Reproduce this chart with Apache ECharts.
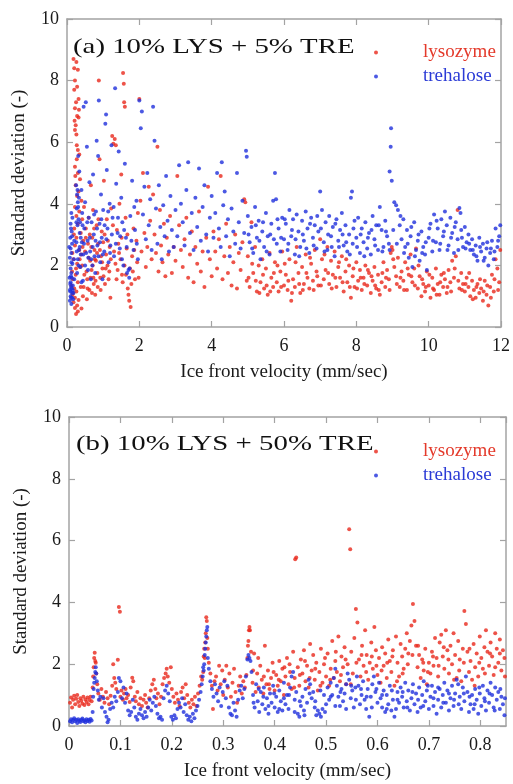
<!DOCTYPE html>
<html>
<head>
<meta charset="utf-8">
<title>Standard deviation vs ice front velocity</title>
<script src="https://cdn.jsdelivr.net/npm/echarts/dist/echarts.min.js"></script>
<style>
  html, body { margin: 0; padding: 0; background: #fff; }
  #chart { width: 513px; height: 784px; }
</style>
</head>
<body>
<div id="chart"></div>
<script>
// panel (a): 10% LYS + 5% TRE, [velocity mm/sec, std dev]
const aLysozyme = [
  [0.18,8.7],[0.26,8.6],[0.2,8.4],[0.3,8.35],[0.22,8.0],[0.28,7.8],[0.2,7.7],[0.32,7.4],[0.25,7.3],[0.22,7.1],
  [0.28,6.85],[0.32,6.8],[0.24,6.55],[0.22,6.4],[0.26,6.25],[0.3,5.75],[0.34,5.6],[0.27,5.45],[0.22,5.2],[0.3,5.0],
  [0.36,4.8],[0.24,4.6],[0.32,4.4],[0.28,4.25],[0.4,4.1],[0.22,3.9],[0.34,3.75],[0.26,3.6],[0.42,3.5],[0.3,3.35],
  [0.2,3.2],[0.38,3.05],[0.26,2.9],[0.45,2.8],[0.22,2.65],[0.34,2.5],[0.4,2.35],[0.18,2.2],[0.28,2.05],[0.36,1.95],
  [0.14,1.8],[0.24,1.7],[0.16,1.55],[0.3,1.45],[0.12,1.35],[0.2,1.25],[0.26,1.15],[0.15,1.05],[0.22,0.95],[0.32,0.88],
  [0.18,0.8],[0.28,0.7],[0.22,0.62],[0.3,0.5],[0.25,0.42],[0.4,0.6],[0.44,1.0],[0.46,1.3],[0.48,1.7],[0.42,2.0],
  [0.15,2.4],[0.19,3.0],[0.23,4.9],[0.27,5.9],[0.21,6.7],[0.33,7.05],[0.17,1.1],[0.25,1.9],[0.35,2.2],[0.38,1.3],
  [0.43,2.6],[0.47,3.9],
  [0.5,2.45],[0.52,3.2],[0.55,0.9],[0.56,1.55],[0.58,2.7],[0.6,3.55],[0.62,1.2],[0.64,2.15],[0.66,4.6],[0.68,1.85],
  [0.7,2.9],[0.72,3.8],[0.74,1.4],[0.76,2.5],[0.78,1.05],[0.8,2.15],[0.82,3.3],[0.84,1.75],[0.86,2.7],[0.88,8.0],
  [0.9,5.45],[0.92,1.6],[0.94,2.3],[0.96,3.1],[0.98,1.9],[1.0,2.75],[1.02,4.75],[1.05,1.4],[1.08,2.35],[1.1,3.5],
  [1.12,2.0],[1.15,1.55],[1.18,2.6],[1.2,0.95],[1.22,3.85],[1.25,6.2],[1.28,5.95],[1.3,2.45],[1.32,6.1],[1.35,5.9],
  [1.38,3.15],[1.4,1.85],[1.42,2.7],[1.45,4.0],[1.48,2.2],[1.5,4.95],[1.52,1.7],[1.55,8.25],[1.57,7.9],[1.58,7.3],
  [1.6,7.15],[1.62,3.55],[1.65,2.55],[1.68,1.25],[1.7,1.05],[1.72,0.85],[1.74,1.9],[1.76,0.65],[1.8,2.3],[1.84,3.2],
  [1.88,1.55],[1.92,2.8],[1.96,3.7],
  [0.52,2.9],[0.54,1.8],[0.57,1.25],[0.6,2.25],[0.63,3.0],[0.65,1.6],[0.67,2.6],[0.69,1.1],[0.71,2.0],[0.73,1.6],
  [0.75,3.2],[0.77,2.2],[0.79,1.5],[0.83,2.4],[0.85,1.3],[0.87,3.5],[0.91,2.5],[0.93,1.2],[0.97,2.1],[1.01,1.65],
  [1.04,3.0],[1.07,1.9],[1.13,2.8],[1.17,1.8],[1.21,2.2],[1.27,3.3],[1.34,2.05],[1.37,1.55],[1.44,2.4],[1.51,2.9],
  [1.54,1.45],[1.59,2.0],[1.63,1.7],[1.67,3.0],[1.78,1.4],[1.82,1.8],[1.86,2.5],[1.94,2.1],[1.98,1.6],
  [2.0,7.4],[2.03,4.1],[2.06,2.45],[2.1,5.0],[2.14,3.05],[2.18,1.95],[2.22,2.6],[2.26,4.55],[2.3,3.45],[2.34,2.2],
  [2.38,4.3],[2.42,3.0],[2.46,2.4],[2.5,5.85],[2.53,1.8],[2.57,3.8],[2.6,2.65],[2.64,2.1],[2.68,3.35],[2.72,1.65],
  [2.76,2.9],[2.8,2.35],[2.85,3.6],[2.9,1.75],[2.95,2.6],[3.0,2.15],[3.05,4.9],[3.1,3.3],[3.15,2.5],[3.2,1.95],
  [3.25,2.85],[3.3,3.55],[3.35,1.6],[3.4,2.35],[3.45,3.1],[3.5,1.45],[3.55,2.6],[3.6,2.05],[3.65,3.75],[3.7,1.8],
  [3.75,2.45],[3.8,1.3],[3.85,2.9],[3.9,4.55],[3.95,2.2],[4.0,1.65],[4.05,3.1],[4.1,2.45],[4.15,1.9],[4.2,2.85],
  [4.25,4.9],[4.3,1.55],[4.35,2.3],[4.4,3.35],[4.45,1.75],[4.5,2.6],[4.55,1.35],[4.6,2.1],[4.65,3.0],[4.7,1.25],
  [4.75,2.4],[4.8,1.85],[4.85,2.75],[4.9,4.15],[4.93,4.05],[4.97,1.5],
  [5.0,2.3],[5.05,1.3],[5.1,3.4],[5.15,1.75],[5.2,2.6],[5.25,1.15],[5.3,2.0],[5.35,1.45],[5.4,2.2],[5.45,1.25],
  [5.5,1.9],[5.55,1.05],[5.6,2.4],[5.65,1.6],[5.7,1.3],[5.75,2.1],[5.8,1.45],[5.85,1.15],[5.9,1.8],[5.95,2.45],
  [6.0,1.35],[6.05,1.7],[6.1,1.2],[6.15,2.2],[6.2,0.85],[6.25,1.55],[6.3,1.3],[6.35,2.6],[6.4,1.75],[6.45,1.1],
  [6.5,1.95],[6.55,1.4],[6.6,2.35],[6.65,1.6],[6.7,1.25],[6.75,2.05],[6.8,1.5],[6.85,2.5],[6.9,1.8],[6.95,1.35],
  [7.0,2.85],[7.05,2.2],[7.1,1.55],[7.15,1.85],[7.2,2.6],[7.25,1.4],[7.3,2.15],[7.35,1.7],[7.4,2.45],[7.45,1.3],
  [7.5,1.95],[7.55,1.6],[7.6,2.3],[7.65,1.15],[7.7,1.8],[7.75,1.45],[7.8,2.0],[7.85,0.95],[7.9,1.65],[7.95,1.3],
  [8.0,2.1],[8.05,1.5],[8.1,1.85],[8.15,1.2],[8.2,1.6],[8.25,2.0],[8.3,1.35],[8.35,1.75],[8.4,1.1],[8.45,1.5],
  [8.5,1.95],[8.55,1.25],[8.6,1.7],[8.65,1.05],[8.7,1.45],[8.75,2.1],[8.8,1.3],[8.85,1.85],[8.9,1.55],[8.95,2.4],
  [8.98,2.6],[9.0,2.5],[9.05,1.95],[9.1,1.65],[9.15,2.25],[9.2,1.3],[9.25,1.8],[9.3,1.5],[9.35,2.1],[9.4,1.2],
  [9.45,1.7],[9.5,2.35],[9.55,1.45],[9.6,1.9],[9.65,2.55],[9.7,1.25],[9.75,1.65],[9.8,1.0],[9.85,1.4],[9.9,1.15],
  [9.95,1.8],[10.0,1.35],[10.05,0.95],[10.1,1.6],[10.15,1.2],[10.2,1.9],[10.25,1.4],[10.3,1.05],[10.35,1.7],[10.4,1.3],
  [10.45,1.55],[10.5,1.1],[10.55,1.85],[10.6,1.45],[10.65,2.15],[10.7,1.6],[10.75,2.3],[10.8,3.8],[10.85,1.25],[10.9,1.75],
  [10.95,1.4],[11.0,1.15],[11.05,1.6],[11.1,1.3],[11.15,1.0],[11.2,1.5],[11.25,1.2],[11.3,0.95],[11.35,1.4],[11.4,1.1],
  [11.45,1.25],[11.5,0.85],[11.55,1.5],[11.6,1.05],[11.65,0.7],[11.7,1.3],[11.75,1.7],[11.8,1.15],[11.85,2.2],[11.9,1.9],
  [11.95,1.45],[11.98,2.5],
  [5.02,1.6],[5.12,2.05],[5.22,1.5],[5.32,1.1],[5.42,1.7],[5.52,1.35],[5.62,1.15],[5.72,1.75],[5.82,2.0],[5.92,1.3],
  [6.02,2.05],[6.12,1.5],[6.22,1.1],[6.32,2.1],[6.42,1.4],[6.52,1.2],[6.62,1.75],[6.72,2.25],[6.82,1.2],[6.92,1.65],
  [7.02,1.35],[7.12,2.35],[7.22,1.75],[7.32,1.25],[7.42,1.6],[7.52,2.1],[7.62,1.45],[7.72,2.2],[7.82,1.3],[7.92,1.9],
  [8.02,1.25],[8.12,1.6],[8.22,1.4],[8.32,1.85],[8.42,1.65],[8.52,1.35],[8.62,1.2],[8.72,1.75],[8.82,1.6],[8.92,1.2],
  [9.02,2.2],[9.12,1.4],[9.22,1.6],[9.32,1.2],[9.42,1.9],[9.52,1.65],[9.62,1.35],[9.72,2.0],[9.82,1.55],[9.92,1.3],
  [10.02,1.7],[10.12,1.25],[10.22,1.05],[10.32,1.45],[10.42,1.75],[10.52,1.3],[10.62,1.15],[10.72,1.9],[10.82,1.5],[10.92,1.2],
  [11.02,1.4],[11.12,1.75],[11.22,0.9],[11.32,1.3],[11.42,1.55],[11.52,1.15],[11.62,1.35],[11.72,0.95],[11.82,1.55],[11.92,1.2]
];
const aTrehalose = [
  [0.08,0.85],[0.1,1.0],[0.12,0.75],[0.09,1.15],[0.11,1.3],[0.14,0.95],[0.1,1.45],[0.13,1.6],[0.08,1.2],[0.12,1.75],
  [0.16,1.35],[0.1,1.9],[0.15,2.05],[0.08,2.25],[0.12,2.4],[0.1,2.55],[0.14,2.7],[0.09,2.9],[0.13,3.1],[0.1,3.35],
  [0.15,3.55],[0.12,3.7],[0.18,1.1],[0.2,1.55],[0.17,0.9],[0.19,2.2],[0.2,2.8],[0.16,1.2],[0.06,2.6],[0.07,1.6],
  [0.11,0.95],[0.13,1.25],[0.09,1.4],[0.14,1.1],[0.11,1.65],[0.12,2.1],[0.14,2.95],[0.11,3.2],
  [0.25,4.6],[0.28,4.3],[0.3,4.05],[0.27,3.85],[0.32,3.5],[0.29,3.3],[0.35,3.05],[0.26,2.75],[0.33,2.5],[0.3,2.2],
  [0.37,1.95],[0.28,1.75],[0.34,5.05],[0.31,5.55],[0.4,4.45],[0.42,3.7],[0.38,2.9],[0.45,2.35],[0.44,1.5],[0.48,3.2],
  [0.5,4.05],[0.52,7.3],[0.46,7.15],[0.55,5.85],[0.57,2.8],[0.58,1.85],[0.6,3.55],[0.35,2.6],[0.4,1.45],[0.5,2.0],
  [0.26,3.4],[0.29,4.45],[0.31,3.9],[0.33,4.2],[0.36,3.4],[0.27,2.45],[0.32,2.0],[0.38,2.35],[0.41,2.75],[0.43,3.3],
  [0.47,2.7],[0.53,2.4],[0.56,3.4],[0.59,2.25],
  [0.62,4.7],[0.64,2.45],[0.66,1.55],[0.68,3.4],[0.7,2.0],[0.72,4.95],[0.74,3.0],[0.76,2.3],[0.78,1.75],[0.8,3.75],
  [0.82,6.05],[0.84,2.65],[0.86,5.55],[0.88,7.35],[0.9,3.35],[0.92,2.1],[0.94,4.3],[0.96,2.9],[0.98,1.55],[1.0,3.8],
  [1.03,2.45],[1.06,6.6],[1.08,6.9],[1.1,5.1],[1.12,3.2],[1.15,2.1],[1.18,4.0],[1.2,2.65],[1.23,5.9],[1.26,3.55],
  [1.3,2.3],[1.33,7.75],[1.36,4.65],[1.4,3.05],[1.43,5.7],[1.46,2.55],[1.5,4.2],[1.53,3.4],[1.56,2.0],[1.6,5.3],
  [1.63,2.9],[1.66,1.75],[1.7,1.85],[1.72,1.6],[1.75,3.6],[1.8,4.75],[1.84,2.5],[1.88,3.15],[1.92,4.1],[1.96,2.2],
  [0.63,2.9],[0.67,2.2],[0.71,2.6],[0.75,3.65],[0.79,2.8],[0.83,3.2],[0.87,2.3],[0.91,2.75],[0.95,3.5],[0.99,2.35],
  [1.04,3.3],[1.09,2.85],[1.14,3.75],[1.19,2.4],[1.24,3.0],[1.29,3.9],[1.35,2.7],[1.41,3.55],[1.47,2.95],[1.52,2.2],
  [1.58,3.15],[1.65,2.6],[1.73,1.9],[1.78,2.8],[1.86,3.9],[1.93,2.7],
  [2.0,7.35],[2.04,6.45],[2.07,7.0],[2.1,3.65],[2.14,4.55],[2.18,2.85],[2.22,5.0],[2.26,3.3],[2.3,4.15],[2.34,2.5],
  [2.38,7.15],[2.42,6.05],[2.46,3.85],[2.5,2.7],[2.54,4.6],[2.58,3.25],[2.62,2.2],[2.66,3.95],[2.7,2.95],[2.74,4.9],
  [2.78,3.45],[2.82,2.45],[2.86,4.25],[2.9,3.15],[2.95,2.6],[3.0,3.8],[3.05,2.95],[3.1,5.25],[3.15,4.0],[3.2,3.4],
  [3.25,2.65],[3.3,4.45],[3.35,5.35],[3.4,3.05],[3.45,3.7],[3.5,2.5],[3.55,4.2],[3.6,3.25],[3.65,5.15],[3.7,2.8],
  [3.75,3.9],[3.8,4.6],[3.85,3.0],[3.9,2.45],[3.95,3.55],[4.0,4.25],[4.05,2.9],[4.1,3.7],[4.15,5.0],[4.2,3.2],
  [4.25,2.6],[4.28,5.35],[4.32,3.95],[4.36,4.4],[4.4,2.95],[4.45,3.5],[4.5,2.3],[4.55,3.85],[4.6,3.1],[4.65,2.7],
  [4.7,5.0],[4.75,3.4],[4.8,2.55],[4.85,4.1],[4.9,3.05],[4.95,5.72],[4.97,5.53],
  [5.0,3.6],[5.05,2.75],[5.1,3.25],[5.15,2.4],[5.2,3.9],[5.25,2.9],[5.3,3.45],[5.35,2.2],[5.4,3.1],[5.45,2.6],
  [5.5,3.7],[5.55,2.95],[5.6,2.35],[5.65,3.35],[5.7,4.1],[5.75,5.0],[5.78,4.15],[5.8,2.7],[5.85,3.2],[5.9,2.45],
  [5.95,3.55],[6.0,2.85],[6.05,3.35],[6.1,2.5],[6.15,3.8],[6.2,2.95],[6.25,3.5],[6.3,2.35],[6.35,3.65],[6.4,3.1],
  [6.45,2.6],[6.5,3.45],[6.55,2.8],[6.6,3.75],[6.65,3.2],[6.7,2.4],[6.75,3.55],[6.8,2.9],[6.85,3.3],[6.9,2.55],
  [6.95,3.1],[7.0,4.4],[7.05,3.8],[7.1,2.75],[7.15,3.4],[7.2,2.5],[7.25,3.6],[7.3,2.95],[7.35,3.25],[7.4,2.3],
  [7.45,3.5],[7.5,2.8],[7.55,3.15],[7.6,3.7],[7.65,2.65],[7.7,3.3],[7.75,2.45],[7.8,3.0],[7.85,4.2],[7.88,4.4],
  [7.9,2.7],[7.95,3.45],[8.0,2.9],[8.05,3.55],[8.1,2.4],[8.15,3.2],[8.2,2.75],[8.25,3.4],[8.3,2.55],[8.35,3.05],
  [8.4,2.35],[8.45,3.6],[8.5,2.85],[8.55,3.3],[8.6,2.5],[8.65,3.9],[8.7,3.15],[8.75,2.6],[8.8,3.45],[8.85,2.95],
  [8.9,2.7],[8.95,5.85],[8.96,6.45],[8.92,5.05],[8.98,4.75],[9.05,4.05],[9.1,3.95],[9.15,3.8],[9.2,3.3],[9.25,2.85],
  [9.3,3.5],[9.35,2.6],[9.4,3.15],[9.45,2.25],[9.5,2.95],[9.55,1.95],[9.6,3.4],[9.65,2.5],[9.7,2.8],[9.75,2.15],
  [9.8,3.1],[9.85,2.6],[9.9,2.35],[9.95,1.85],[10.0,2.9],[10.05,3.35],[10.1,2.45],[10.15,3.65],[10.2,2.75],[10.25,3.2],
  [10.3,2.5],[10.35,3.5],[10.4,2.95],[10.45,3.75],[10.5,3.3],[10.55,2.65],[10.6,3.55],[10.65,3.05],[10.7,2.4],[10.75,3.4],
  [10.8,2.85],[10.85,3.86],[10.88,3.7],[10.9,3.15],[10.95,2.6],[11.0,3.25],[11.05,2.75],[11.1,3.0],[11.15,2.5],[11.2,2.85],
  [11.25,2.35],[11.3,2.65],[11.35,2.15],[11.4,2.9],[11.45,2.45],[11.5,2.7],[11.55,2.25],[11.6,2.55],[11.65,2.0],[11.7,2.4],
  [11.75,2.8],[11.8,2.2],[11.85,3.2],[11.9,2.6],[11.95,2.95],[11.98,3.3],
  [5.02,3.0],[5.12,2.55],[5.22,3.3],[5.32,2.8],[5.42,3.4],[5.52,2.45],[5.62,3.0],[5.72,2.85],[5.82,3.5],[5.92,2.9],
  [6.02,3.5],[6.12,2.7],[6.22,3.15],[6.32,2.85],[6.42,2.3],[6.52,3.0],[6.62,2.55],[6.72,3.35],[6.82,2.65],[6.92,3.6],
  [7.02,3.2],[7.12,2.45],[7.22,3.0],[7.32,2.6],[7.42,3.35],[7.52,2.6],[7.62,3.0],[7.72,2.75],[7.82,2.35],[7.92,3.2],
  [8.02,2.6],[8.12,3.0],[8.22,2.3],[8.32,2.9],[8.42,3.15],[8.52,2.65],[8.62,3.3],[8.72,2.45],[8.82,3.1],[8.92,2.5],
  [9.02,3.15],[9.12,2.7],[9.22,3.6],[9.32,2.4],[9.42,2.7],[9.52,3.25],[9.62,2.3],[9.72,3.0],[9.82,2.4],[9.92,2.75],
  [10.02,3.2],[10.12,2.8],[10.22,3.45],[10.32,2.7],[10.42,3.1],[10.52,2.5],[10.62,2.9],[10.72,3.25],[10.82,2.5],[10.92,2.9],
  [11.02,2.55],[11.12,2.7],[11.22,2.5],[11.32,2.3],[11.42,2.6],[11.52,2.15],[11.62,2.75],[11.72,2.55],[11.82,2.45],[11.92,2.8]
];

// panel (b): 10% LYS + 50% TRE
const bLysozyme = [
  [0.002,0.75],[0.004,0.92],[0.006,0.6],[0.008,0.85],[0.01,0.98],[0.012,0.7],[0.014,0.88],[0.016,1.0],[0.018,0.78],[0.02,0.65],
  [0.022,0.9],[0.024,0.82],[0.026,0.72],[0.028,0.95],[0.03,0.68],[0.032,0.86],[0.034,0.78],[0.036,0.92],[0.038,0.7],[0.04,0.84],
  [0.042,0.95],[0.044,0.8],
  [0.046,1.25],[0.047,1.6],[0.048,1.9],[0.049,2.2],[0.05,2.37],[0.051,2.1],[0.052,2.05],[0.053,1.7],[0.055,1.35],
  [0.057,1.05],[0.06,0.85],[0.063,1.2],[0.066,0.95],[0.069,0.75],[0.072,1.1],[0.075,0.9],[0.078,0.7],[0.081,0.98],[0.084,1.3],
  [0.086,2.0],[0.088,1.55],[0.09,1.4],[0.092,1.2],[0.095,2.14],[0.097,3.85],[0.099,3.7],[0.1,0.95],[0.102,1.15],[0.105,0.85],
  [0.107,1.05],[0.11,1.2],[0.112,0.9],[0.115,1.0],[0.118,0.78],[0.12,1.25],[0.123,1.56],[0.125,1.45],[0.128,0.95],[0.13,0.8],
  [0.133,1.1],[0.136,0.7],[0.139,0.9],[0.142,0.65],[0.145,0.85],[0.148,1.0],[0.15,0.75],[0.153,0.6],[0.156,0.9],[0.159,1.15],
  [0.162,1.35],[0.165,1.5],[0.168,1.2],[0.17,0.9],[0.173,1.05],[0.176,0.7],[0.179,0.95],[0.182,1.35],[0.185,1.55],[0.188,1.7],
  [0.19,1.85],[0.192,1.6],[0.195,1.4],[0.198,1.9],[0.2,1.2],[0.203,0.95],[0.206,0.75],[0.209,1.05],[0.212,0.85],[0.215,0.65],
  [0.218,1.1],[0.221,1.25],[0.224,0.9],[0.227,1.35],[0.23,1.0],[0.233,0.75],[0.236,0.6],[0.239,0.85],[0.242,0.7],[0.245,0.95],
  [0.248,0.65],[0.251,1.05],[0.254,1.3],[0.257,1.6],[0.259,1.5],
  [0.261,1.75],[0.262,2.25],[0.263,2.5],[0.264,2.2],[0.265,2.7],[0.266,3.0],[0.267,3.52],[0.268,3.4],[0.269,2.85],[0.27,2.5],
  [0.272,2.05],[0.275,1.7],[0.278,1.3],[0.28,0.55],[0.283,1.45],[0.286,1.6],[0.289,1.15],[0.292,1.95],[0.295,1.35],[0.298,1.8],
  [0.3,1.0],[0.303,1.5],[0.306,1.95],[0.309,1.25],[0.312,1.7],[0.315,0.95],[0.318,1.4],[0.321,1.85],[0.324,1.1],[0.327,0.75],
  [0.33,1.3],[0.333,1.6],[0.336,1.05],[0.339,1.45],[0.342,1.25],[0.345,1.65],
  [0.347,2.2],[0.348,2.6],[0.349,2.75],[0.35,3.1],[0.351,3.2],[0.352,3.1],[0.354,2.4],
  [0.357,1.4],[0.36,2.35],[0.363,1.1],[0.366,1.7],[0.369,1.25],[0.372,1.95],[0.375,1.5],[0.378,1.05],[0.381,2.6],[0.384,1.35],
  [0.387,1.8],[0.39,1.2],[0.393,1.55],[0.396,2.05],[0.4,1.15],[0.403,1.65],[0.406,1.3],[0.409,2.1],[0.412,1.45],[0.415,1.85],
  [0.418,1.0],[0.421,1.6],[0.424,2.2],[0.427,1.35],[0.43,1.75],[0.433,1.2],[0.436,2.4],[0.439,1.55],[0.44,5.4],[0.442,5.45],
  [0.445,1.9],[0.448,1.3],[0.451,2.15],[0.454,1.7],[0.457,2.45],[0.46,1.45],[0.463,1.95],[0.466,1.25],[0.469,2.65],[0.472,1.8],
  [0.475,2.3],[0.478,1.5],[0.481,2.05],[0.484,1.15],[0.487,1.75],[0.49,2.5],[0.493,1.4],[0.496,2.0],[0.5,1.6],[0.503,2.35],
  [0.506,1.3],[0.509,1.85],[0.512,2.75],[0.515,1.55],[0.518,2.1],[0.521,1.75],[0.524,2.9],[0.527,1.45],[0.53,2.25],[0.533,1.9],
  [0.536,2.55],[0.539,1.35],[0.542,2.0],[0.545,6.37],[0.547,5.72],[0.549,2.4],[0.552,1.7],[0.555,2.85],[0.558,3.79],[0.561,3.35],
  [0.564,2.15],[0.567,1.6],[0.57,2.6],[0.573,1.95],[0.576,3.1],[0.579,2.3],[0.582,1.5],[0.585,2.05],[0.588,2.7],[0.591,1.85],
  [0.594,3.2],[0.597,2.45],[0.6,1.65],[0.603,2.2],[0.606,1.4],[0.609,2.55],[0.612,1.95],[0.615,2.35],[0.618,1.55],[0.621,2.8],
  [0.624,2.1],[0.627,1.75],[0.63,2.45],[0.633,1.3],[0.636,2.9],[0.639,2.05],[0.642,1.6],[0.645,2.65],[0.648,2.25],[0.651,1.85],
  [0.654,2.5],[0.657,3.0],[0.66,2.35],[0.663,2.75],[0.666,3.25],[0.669,3.95],[0.672,3.4],[0.675,2.6],[0.678,1.9],[0.681,2.3],
  [0.684,1.55],[0.687,2.15],[0.69,1.8],[0.693,2.5],[0.696,1.35],[0.7,2.05],[0.703,1.7],[0.706,2.4],[0.709,1.95],[0.712,2.85],
  [0.715,2.2],[0.718,1.6],[0.721,2.7],[0.724,2.95],[0.727,2.25],[0.73,1.85],[0.733,3.1],[0.736,2.45],[0.739,1.7],[0.742,2.6],
  [0.745,2.0],[0.748,3.0],[0.751,2.3],[0.754,1.55],[0.757,2.75],[0.76,2.15],[0.763,1.45],[0.766,2.5],[0.769,3.72],[0.772,3.3],
  [0.775,2.4],[0.778,1.75],[0.781,2.1],[0.784,1.5],[0.787,2.65],[0.79,1.9],[0.793,2.35],[0.796,1.6],[0.799,2.9],[0.802,2.2],
  [0.805,1.85],[0.808,2.55],[0.811,3.1],[0.814,2.4],[0.817,1.95],[0.82,2.7],[0.823,2.25],[0.826,1.65],[0.829,3.0],[0.832,2.5],
  [0.835,2.05],[0.838,2.8],[0.841,1.8],[0.844,2.45],[0.847,2.2],
  [0.358,1.8],[0.368,2.2],[0.379,1.6],[0.389,1.35],[0.398,1.75],[0.408,1.5],[0.419,1.9],[0.429,2.0],[0.438,1.25],[0.449,1.65],
  [0.459,2.1],[0.468,1.55],[0.479,1.85],[0.489,1.3],[0.498,2.2],[0.508,1.5],[0.519,2.4],[0.529,1.65],[0.538,2.15],[0.548,1.35],
  [0.559,2.05],[0.569,2.3],[0.578,1.75],[0.589,2.25],[0.598,1.95],[0.608,1.8],[0.619,2.05],[0.629,2.25],[0.638,1.45],[0.649,1.7],
  [0.659,2.0],[0.668,2.3],[0.679,2.6],[0.689,2.05],[0.698,1.75],[0.708,2.25],[0.719,1.95],[0.729,2.55],[0.738,2.15],[0.749,1.5],
  [0.759,1.8],[0.768,2.05],[0.779,2.5],[0.789,1.3],[0.798,2.05],[0.809,1.7],[0.819,2.35],[0.829,1.9],[0.838,2.35],[0.848,1.6]
];
const bTrehalose = [
  [0.002,0.15],[0.004,0.22],[0.006,0.12],[0.008,0.2],[0.01,0.25],[0.012,0.15],[0.014,0.2],[0.016,0.1],[0.018,0.22],[0.02,0.17],
  [0.022,0.13],[0.024,0.2],[0.026,0.24],[0.028,0.15],[0.03,0.19],[0.032,0.12],[0.034,0.22],[0.036,0.16],[0.038,0.2],[0.04,0.14],
  [0.042,0.23],[0.044,0.18],
  [0.046,0.45],[0.047,0.95],[0.048,1.2],[0.049,1.4],[0.05,1.55],[0.051,1.75],[0.052,1.9],[0.053,1.7],[0.054,1.45],[0.056,1.15],
  [0.058,0.85],[0.061,0.95],[0.064,0.6],[0.067,0.9],[0.07,0.45],[0.073,0.3],[0.075,0.12],[0.077,0.2],[0.08,0.55],[0.083,0.75],
  [0.086,0.6],[0.089,0.95],[0.092,0.8],[0.095,1.1],[0.097,1.55],[0.1,1.45],[0.103,0.9],[0.106,1.25],[0.109,0.75],[0.112,1.05],
  [0.115,0.5],[0.118,0.35],[0.121,0.45],[0.124,0.85],[0.127,0.6],[0.13,0.3],[0.133,0.2],[0.136,0.4],[0.139,0.55],[0.142,0.35],
  [0.145,0.25],[0.148,0.45],[0.151,0.3],[0.154,0.6],[0.157,0.85],[0.16,0.5],[0.163,0.75],[0.166,0.95],[0.169,0.65],[0.172,0.4],
  [0.175,0.25],[0.178,0.3],[0.181,0.2],[0.184,0.9],[0.187,1.15],[0.19,1.3],[0.193,1.05],[0.196,0.8],[0.199,0.3],[0.202,0.2],
  [0.205,0.35],[0.208,0.25],[0.211,0.55],[0.214,0.75],[0.217,0.6],[0.22,0.9],[0.223,0.45],[0.226,0.7],[0.229,0.35],[0.232,0.2],
  [0.235,0.3],[0.238,0.15],[0.241,0.4],[0.244,0.25],[0.247,0.5],[0.25,0.65],[0.253,0.85],[0.256,1.1],[0.258,1.35],
  [0.26,1.6],[0.261,1.9],[0.262,1.8],[0.263,2.0],[0.264,2.3],[0.265,2.5],[0.266,2.7],[0.267,2.9],[0.268,3.1],[0.269,3.2],
  [0.27,2.2],[0.272,1.85],[0.275,1.45],[0.278,1.2],[0.281,0.95],[0.284,1.35],[0.287,1.05],[0.29,0.8],[0.293,1.25],[0.296,0.65],
  [0.299,1.1],[0.302,1.45],[0.305,0.9],[0.308,1.3],[0.311,0.6],[0.314,0.4],[0.317,0.35],[0.32,0.75],[0.323,0.5],[0.326,0.3],
  [0.329,0.85],[0.332,1.15],[0.335,1.3],[0.338,0.9],[0.341,1.2],[0.344,1.6],
  [0.347,2.15],[0.349,2.3],[0.351,2.2],[0.353,2.1],[0.355,1.75],
  [0.358,1.0],[0.361,0.6],[0.364,1.35],[0.367,0.8],[0.37,0.45],[0.373,1.1],[0.376,0.7],[0.379,1.25],[0.382,0.55],[0.385,0.9],
  [0.388,0.4],[0.391,1.05],[0.394,0.75],[0.397,1.3],[0.4,0.6],[0.403,0.95],[0.406,0.45],[0.409,1.15],[0.412,0.8],[0.415,0.5],
  [0.418,1.4],[0.421,0.7],[0.424,1.0],[0.427,0.55],[0.43,1.25],[0.433,1.6],[0.436,1.75],[0.439,0.85],[0.442,1.1],[0.445,0.4],
  [0.448,0.3],[0.451,0.65],[0.454,0.95],[0.457,0.5],[0.46,1.2],[0.463,0.75],[0.466,1.5],[0.469,1.35],[0.472,0.9],[0.475,1.1],
  [0.478,0.6],[0.481,0.35],[0.484,0.5],[0.487,0.4],[0.49,0.3],[0.493,0.55],[0.496,1.0],[0.5,0.7],[0.503,1.25],[0.506,0.85],
  [0.509,1.4],[0.512,1.0],[0.515,1.55],[0.518,1.85],[0.521,1.3],[0.524,0.95],[0.527,0.65],[0.53,1.2],[0.533,0.8],[0.536,1.05],
  [0.539,1.35],[0.542,1.7],[0.545,1.5],[0.548,0.9],[0.551,1.15],[0.554,0.6],[0.557,1.25],[0.56,1.6],[0.563,1.3],[0.566,0.7],
  [0.569,1.0],[0.572,1.45],[0.575,0.85],[0.578,0.55],[0.581,1.2],[0.584,0.3],[0.587,0.95],[0.59,1.35],[0.593,1.6],[0.596,1.1],
  [0.6,0.75],[0.603,1.4],[0.606,0.9],[0.609,0.6],[0.612,1.15],[0.615,0.45],[0.618,1.0],[0.621,0.7],[0.624,1.3],[0.627,0.5],
  [0.63,0.85],[0.633,0.3],[0.636,0.55],[0.639,1.1],[0.642,0.75],[0.645,1.25],[0.648,0.95],[0.651,0.6],[0.654,1.4],[0.657,0.8],
  [0.66,1.15],[0.663,0.5],[0.666,0.9],[0.669,1.35],[0.672,0.7],[0.675,1.05],[0.678,0.45],[0.681,1.25],[0.684,0.6],[0.687,1.0],
  [0.69,1.45],[0.693,0.8],[0.696,1.15],[0.7,0.55],[0.703,0.95],[0.706,1.3],[0.709,0.65],[0.712,1.1],[0.715,0.4],[0.718,0.85],
  [0.721,1.2],[0.724,0.6],[0.727,1.0],[0.73,1.4],[0.733,0.75],[0.736,1.15],[0.739,0.5],[0.742,0.9],[0.745,1.3],[0.748,0.65],
  [0.751,1.05],[0.754,1.5],[0.757,1.35],[0.76,0.95],[0.763,0.55],[0.766,1.25],[0.769,0.8],[0.772,1.6],[0.775,1.1],[0.778,0.45],
  [0.781,0.7],[0.784,1.0],[0.787,0.55],[0.79,1.2],[0.793,0.85],[0.796,0.4],[0.799,1.05],[0.802,0.65],[0.805,1.3],[0.808,0.9],
  [0.811,0.5],[0.814,1.15],[0.817,0.75],[0.82,1.4],[0.823,1.0],[0.826,0.6],[0.829,1.25],[0.832,0.85],[0.835,1.1],[0.838,0.55],
  [0.841,0.95],[0.844,0.7],[0.847,0.35],
  [0.359,0.75],[0.369,1.2],[0.378,0.95],[0.388,0.65],[0.399,1.05],[0.409,0.55],[0.418,0.9],[0.428,1.0],[0.439,0.45],[0.449,0.8],
  [0.458,0.35],[0.468,1.05],[0.479,0.8],[0.489,1.15],[0.498,0.45],[0.509,0.95],[0.518,0.65],[0.528,1.1],[0.539,0.55],[0.549,1.3],
  [0.558,0.85],[0.568,1.2],[0.579,0.95],[0.589,0.6],[0.598,1.2],[0.609,1.0],[0.618,0.55],[0.628,1.15],[0.639,0.85],[0.649,1.1],
  [0.658,0.6],[0.668,1.1],[0.679,0.85],[0.689,0.65],[0.698,1.3],[0.709,0.9],[0.718,1.25],[0.728,0.75],[0.739,1.05],[0.749,0.85],
  [0.758,0.7],[0.768,1.05],[0.779,0.95],[0.789,0.7],[0.798,1.25],[0.809,0.8],[0.818,1.05],[0.828,0.5],[0.839,1.2],[0.848,0.9]
];

const panelTitles = ["(a) 10% LYS + 5% TRE", "(b) 10% LYS + 50% TRE"];
const seriesNames = ["lysozyme", "trehalose"];
const xTitle = "Ice front velocity (mm/sec)";
const yTitle = "Standard deviation (-)";

const RED = "#e8281c";
const BLUE = "#1f30dc";
const FONT = '"Liberation Serif", "Times New Roman", serif';
const FRAME = "#a3a3a3";

const chart = echarts.init(document.getElementById("chart"));

function frameAxis (extra) {
  return Object.assign({
    type: "value",
    axisLine: { show: true, onZero: false, lineStyle: { color: FRAME, width: 1.5 } },
    axisTick: { show: true, inside: true, length: 6, lineStyle: { color: FRAME, width: 1.2 } },
    splitLine: { show: false },
    axisLabel: { show: false }
  }, extra)
}

const tickLabel = { show: true, fontFamily: FONT, fontSize: 18, color: "#1a1a1a" };
const nameStyle = { fontFamily: FONT, fontSize: 19, color: "#1a1a1a" };

const xRanges = [{ max: 12, interval: 2 }, { max: 0.85, interval: 0.1 }];

const xAxes = [];
const yAxes = [];
[0, 1].forEach(g => {
  xAxes.push(frameAxis({
    gridIndex: g, position: "bottom", min: 0, max: xRanges[g].max, interval: xRanges[g].interval,
    name: xTitle, nameLocation: "middle", nameGap: 36, nameTextStyle: nameStyle,
    axisLabel: Object.assign({ margin: 10, showMaxLabel: g === 0 }, tickLabel)
  }));
  xAxes.push(frameAxis({
    gridIndex: g, position: "top", min: 0, max: xRanges[g].max, interval: xRanges[g].interval
  }));
  yAxes.push(frameAxis({
    gridIndex: g, position: "left", min: 0, max: 10, interval: 2,
    name: yTitle, nameLocation: "middle", nameGap: 38, nameTextStyle: nameStyle,
    axisLabel: Object.assign({ margin: 8 }, tickLabel)
  }));
  yAxes.push(frameAxis({ gridIndex: g, position: "right", min: 0, max: 10, interval: 2 }));
});

function dots (name, data, g, color) {
  return {
    name: name,
    type: "scatter",
    xAxisIndex: g * 2,
    yAxisIndex: g * 2,
    data: data,
    symbol: "circle",
    symbolSize: 4,
    itemStyle: { color: color },
    silent: true
  }
}

function legendFor (top) {
  return {
    orient: "vertical",
    left: 369,
    top: top,
    icon: "circle",
    itemWidth: 4,
    itemHeight: 4,
    itemGap: 5,
    selectedMode: false,
    textStyle: {
      fontFamily: FONT,
      fontSize: 19,
      rich: { gap: { width: 40 } }
    },
    formatter: name => "{gap|}" + name,
    data: [
      { name: seriesNames[0], itemStyle: { color: RED }, textStyle: { color: "#e43a2b" } },
      { name: seriesNames[1], itemStyle: { color: BLUE }, textStyle: { color: "#2b3bd6" } }
    ]
  }
}

// the titles in the source are drawn horizontally stretched
function titleText (text, x, y) {
  return {
    type: "text",
    x: x,
    y: y,
    scaleX: 1.31,
    style: { text: text, font: '22px "Liberation Serif"', fill: "#111", verticalAlign: "middle", align: "left" }
  }
}

chart.setOption({
  animation: false,
  backgroundColor: "#fff",
  grid: [
    { left: 67, top: 19, width: 436, height: 308 },
    { left: 69, top: 417, width: 437, height: 309 }
  ],
  xAxis: xAxes,
  yAxis: yAxes,
  legend: [legendFor(38), legendFor(437)],
  graphic: [titleText(panelTitles[0], 73, 47), titleText(panelTitles[1], 76, 444)],
  series: [
    dots(seriesNames[0], aLysozyme, 0, RED),
    dots(seriesNames[1], aTrehalose, 0, BLUE),
    dots(seriesNames[0], bLysozyme, 1, RED),
    dots(seriesNames[1], bTrehalose, 1, BLUE)
  ]
});
</script>
</body>
</html>
